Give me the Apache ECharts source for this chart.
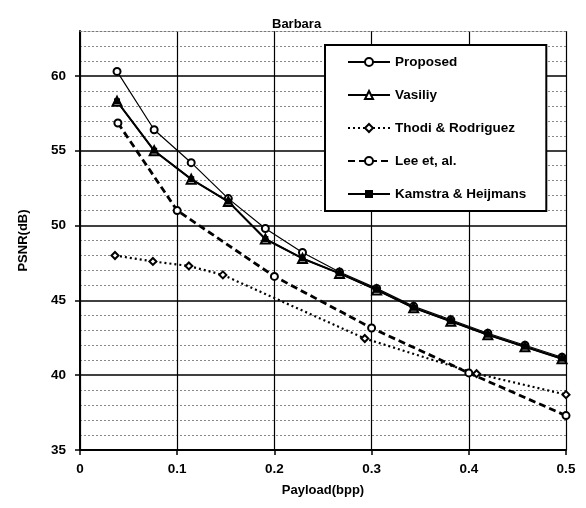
<!DOCTYPE html>
<html>
<head>
<meta charset="utf-8">
<script src="https://cdn.jsdelivr.net/npm/echarts@6/dist/echarts.min.js"></script>
<style>
  html, body { margin: 0; padding: 0; background: #fff; }
  #chart { width: 586px; height: 508px; }
</style>
</head>
<body>
<div id="chart"></div>
<script>
// payload values (bpp) for the 13-step curves
var payload = [0.0381, 0.0763, 0.1144, 0.1526, 0.1907, 0.2289, 0.2670, 0.3052, 0.3433, 0.3815, 0.4196, 0.4578, 0.4959];
var proposed = [60.3, 56.4, 54.2, 51.8, 49.8, 48.2, 46.9, 45.8, 44.6, 43.7, 42.8, 42.0, 41.2];
var vasiliy  = [58.3, 55.0, 53.1, 51.6, 49.1, 47.8, 46.8, 45.7, 44.5, 43.6, 42.7, 41.9, 41.1];
var kamstra  = [58.3, 55.0, 53.1, 51.6, 49.1, 47.8, 46.8, 45.7, 44.5, 43.6, 42.7, 41.9, 41.1];

var thodiX = [0.036, 0.075, 0.112, 0.147, 0.293, 0.408, 0.5];
var thodi  = [48.0, 47.6, 47.3, 46.7, 42.45, 40.1, 38.7];

var leeX = [0.039, 0.1, 0.2, 0.3, 0.4, 0.5];
var lee  = [56.85, 51.0, 46.6, 43.15, 40.15, 37.3];

var xTicks = ['0', '0.1', '0.2', '0.3', '0.4', '0.5'];

function pairs(xs, ys) {
  return xs.map(function (x, i) { return [x, ys[i]]; });
}

var font = 'Liberation Sans';
var bold = { fontFamily: font, fontSize: 13, fontWeight: 'bold', color: '#000' };
var chart = echarts.init(document.getElementById('chart'));

var options = {
  animation: false,
  title: {
    text: 'Barbara',
    left: 267,
    top: 13,
    textStyle: bold
  },
  legend: {
    orient: 'vertical',
    left: 325,
    top: 45,
    itemWidth: 42,
    itemHeight: 10,
    itemGap: 19,
    padding: [10, 20, 10, 22],
    backgroundColor: '#fff',
    borderColor: '#000',
    borderWidth: 2,
    borderRadius: 0,
    textStyle: { fontFamily: font, fontSize: 13.5, fontWeight: 'bold', color: '#000' },
    data: ['Proposed', 'Vasiliy', 'Thodi & Rodriguez', 'Lee et, al.', 'Kamstra & Heijmans']
  },
  grid: { left: 80, right: 20, top: 31, bottom: 58 },
  xAxis: [
    {
      type: 'value',
      min: 0,
      max: 0.5,
      interval: 0.1,
      name: 'Payload(bpp)',
      nameLocation: 'middle',
      nameGap: 34,
      nameTextStyle: bold,
      axisLine: { lineStyle: { color: '#000', width: 2 } },
      axisTick: { show: true, length: 5, lineStyle: { color: '#000', width: 1.5 } },
      axisLabel: {
        fontFamily: font, fontSize: 13.5, fontWeight: 'bold', color: '#000', margin: 12,
        formatter: function (v) { return xTicks[Math.round(v * 10)]; }
      },
      splitLine: { show: true, lineStyle: { color: '#000', width: 1.2 } }
    },
    {
      // dotted top border of the plot
      type: 'value',
      position: 'top',
      min: 0,
      max: 0.5,
      axisLine: { show: true, lineStyle: { color: '#777', width: 1, type: [2, 2] } },
      axisTick: { show: false },
      axisLabel: { show: false },
      splitLine: { show: false }
    }
  ],
  yAxis: {
    type: 'value',
    min: 35,
    max: 63,
    interval: 5,
    name: 'PSNR(dB)',
    nameLocation: 'middle',
    nameGap: 50,
    nameTextStyle: bold,
    axisLine: { show: true, lineStyle: { color: '#000', width: 2 } },
    axisTick: { show: true, length: 5, lineStyle: { color: '#000', width: 1.5 } },
    axisLabel: { fontFamily: font, fontSize: 13.5, fontWeight: 'bold', color: '#000', margin: 14, showMaxLabel: false },
    splitLine: { show: true, showMaxLine: false, lineStyle: { color: '#000', width: 1.5 } },
    minorTick: { show: false, splitNumber: 5 },
    minorSplitLine: { show: true, lineStyle: { color: '#888', width: 1, type: [2, 2] } }
  },
  series: [
    {
      name: 'Proposed', type: 'line', data: pairs(payload, proposed),
      symbol: 'emptyCircle', symbolSize: 7,
      lineStyle: { color: '#000', width: 1.2 },
      itemStyle: { color: '#000', borderWidth: 1.5 }
    },
    {
      name: 'Vasiliy', type: 'line', data: pairs(payload, vasiliy),
      symbol: 'emptyTriangle', symbolSize: 9,
      lineStyle: { color: '#000', width: 1.5 },
      itemStyle: { color: '#000', borderWidth: 1.5 }
    },
    {
      name: 'Thodi & Rodriguez', type: 'line', data: pairs(thodiX, thodi),
      symbol: 'emptyDiamond', symbolSize: 7,
      lineStyle: { color: '#000', width: 2.2, type: [2, 3] },
      itemStyle: { color: '#000', borderWidth: 1.5 }
    },
    {
      name: 'Lee et, al.', type: 'line', data: pairs(leeX, lee),
      symbol: 'emptyCircle', symbolSize: 7,
      lineStyle: { color: '#000', width: 2.8, type: [7, 4] },
      itemStyle: { color: '#000', borderWidth: 1.5 }
    },
    {
      name: 'Kamstra & Heijmans', type: 'line', data: pairs(payload, kamstra),
      symbol: 'rect', symbolSize: 6,
      lineStyle: { color: '#000', width: 2 },
      itemStyle: { color: '#000' }
    }
  ]
};

chart.setOption(options);
</script>
</body>
</html>
